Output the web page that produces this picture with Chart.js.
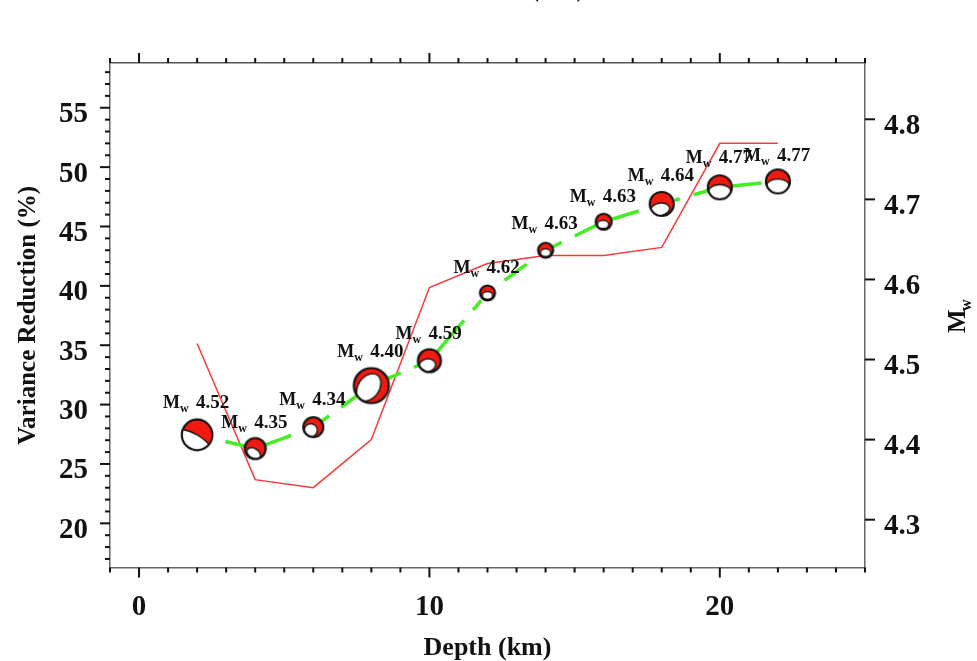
<!DOCTYPE html>
<html>
<head>
<meta charset="utf-8">
<title>Variance reduction vs depth</title>
<script src="https://cdn.jsdelivr.net/npm/chart.js@4"></script>
<style>
  body { margin: 0; background: #fff; }
  canvas { display: block; }
</style>
</head>
<body>
<canvas id="depth-chart" width="977" height="661"></canvas>
<script>
const depths = [2, 4, 6, 8, 10, 12, 14, 16, 18, 20, 22];
const varianceReduction = [27.45, 26.3, 28.1, 31.6, 33.7, 39.4, 43.0, 45.4, 46.9, 48.3, 48.8];
const magnitudes = [4.52, 4.35, 4.34, 4.40, 4.59, 4.62, 4.63, 4.63, 4.64, 4.77, 4.77];
const magnitudeLabels = ['4.52', '4.35', '4.34', '4.40', '4.59', '4.62', '4.63', '4.63', '4.64', '4.77', '4.77'];

const xTicks = [0, 10, 20];
const leftTicks = [20, 25, 30, 35, 40, 45, 50, 55];
const rightTicks = [4.3, 4.4, 4.5, 4.6, 4.7, 4.8];

// look of the beachballs: radius, then white part as offset x/y, rx, ry, angle (in ball radii)
const ballSizes = [15.3, 10.5, 10, 17.5, 11.5, 7.5, 7.5, 8, 12, 12, 12];
const ballWhite = [
    [-1.5, 2.6, 3, 3, 30],
    [-0.15, 0.45, 0.7, 0.45, 30],
    [-0.25, 0.3, 0.65, 0.65, 0],
    [-0.15, 0.1, 0.85, 0.6, -55],
    [-0.18, 0.4, 0.72, 0.55, -10],
    [0, 0.32, 0.68, 0.5, 0],
    [0, 0.32, 0.68, 0.5, 0],
    [-0.08, 0.33, 0.7, 0.5, 0],
    [-0.14, 0.45, 0.8, 0.52, -10],
    [0, 0.37, 0.95, 0.6, 0],
    [0, 0.42, 0.98, 0.62, 0]
];
// how far each Mw label sits above its ball
const labelLift = [27, 21, 22, 29, 22, 20, 21, 20, 23, 24, 20];

// gaps in the green line, hand measured along the path
const greenDash = [0, 29, 69, 13, 30, 14.7, 69.3, 14.2, 11, 12, 47, 14, 12.5, 30.8, 27.4, 14.9, 26.7, 14.4, 68.9, 37.6, 5.2, 14.5, 69.2, 200];

const serif = '"Liberation Serif", "Times New Roman", serif';

function makeBall(r, w) {
    const c = document.createElement('canvas');
    const half = Math.ceil(r) + 2;
    c.width = half * 2;
    c.height = half * 2;
    const g = c.getContext('2d');
    g.translate(half, half);
    g.save();
    g.beginPath();
    g.arc(0, 0, r, 0, Math.PI * 2);
    g.clip();
    g.fillStyle = '#f01a10';
    g.fillRect(-half, -half, half * 2, half * 2);
    g.beginPath();
    g.ellipse(w[0] * r, w[1] * r, w[2] * r, w[3] * r, w[4] * Math.PI / 180, 0, Math.PI * 2);
    g.fillStyle = '#fff';
    g.fill();
    g.lineWidth = 1.3;
    g.strokeStyle = '#111';
    g.stroke();
    g.restore();
    g.beginPath();
    g.arc(0, 0, r, 0, Math.PI * 2);
    g.lineWidth = 2.2;
    g.strokeStyle = '#111';
    g.stroke();
    return c;
}
const balls = ballSizes.map((r, i) => makeBall(r, ballWhite[i]));

function range(from, to, step) {
    const out = [];
    for (let v = from; v <= to; v += step) out.push(v);
    return out;
}

function drawTick(ctx, x, y, dx, dy) {
    ctx.beginPath();
    ctx.moveTo(x, y);
    ctx.lineTo(x + dx, y + dy);
    ctx.stroke();
}

// Chart.js has one tick length per axis so the long/short ticks are done here
const tickPlugin = {
    id: 'ticks2',
    afterDraw(chart) {
        const ctx = chart.ctx;
        const s = chart.scales;
        const area = chart.chartArea;
        ctx.save();
        ctx.strokeStyle = '#111';
        ctx.lineWidth = 2;
        range(-1, 25, 1).forEach(v => {
            const len = xTicks.includes(v) ? 10 : 5;
            const x = s.x.getPixelForValue(v);
            drawTick(ctx, x, area.bottom, 0, len);
            drawTick(ctx, x, area.top, 0, -len);
        });
        range(17, 58, 1).forEach(v => {
            drawTick(ctx, area.left, s.y.getPixelForValue(v), leftTicks.includes(v) ? -10 : -5, 0);
        });
        rightTicks.forEach(v => {
            drawTick(ctx, area.right, s.y2.getPixelForValue(v), 10, 0);
        });
        ctx.restore();
    }
};

const textPlugin = {
    id: 'mwText',
    afterDraw(chart) {
        const ctx = chart.ctx;
        const s = chart.scales;
        ctx.save();
        ctx.fillStyle = '#111';
        ctx.textBaseline = 'alphabetic';
        ctx.textAlign = 'left';
        depths.forEach((d, i) => {
            const x = s.x.getPixelForValue(d) - 34;
            const y = s.y.getPixelForValue(varianceReduction[i]) - labelLift[i];
            ctx.font = 'bold 18px ' + serif;
            ctx.fillText('M', x, y);
            ctx.font = 'bold 12px ' + serif;
            ctx.fillText('w', x + 17, y + 4);
            ctx.font = 'bold 19px ' + serif;
            ctx.fillText(magnitudeLabels[i], x + 33, y);
        });
        // right axis title
        ctx.save();
        ctx.translate(965, 333);
        ctx.rotate(-Math.PI / 2);
        ctx.font = 'bold 25px ' + serif;
        ctx.fillText('M', 0, 0);
        ctx.font = 'bold 16px ' + serif;
        ctx.fillText('w', 22, 6);
        ctx.restore();
        // the title is cut by the top of the page, only the brackets show
        ctx.font = 'bold 27px ' + serif;
        ctx.fillText('(km)', 530, -4);
        ctx.restore();
    }
};

function fixSide(prop, size) {
    return scale => { scale[prop] = size; };
}

const ctx = document.getElementById('depth-chart').getContext('2d');
const depthChart = new Chart(ctx, {
    type: 'line',
    plugins: [tickPlugin, textPlugin],
    data: {
        datasets: [
            {
                label: 'Mw',
                yAxisID: 'y2',
                data: depths.map((d, i) => ({ x: d, y: magnitudes[i] })),
                borderColor: '#f93a3a',
                borderWidth: 1.5,
                pointRadius: 0,
                tension: 0,
                order: 3
            },
            {
                label: 'Variance Reduction',
                yAxisID: 'y',
                data: depths.map((d, i) => ({ x: d, y: varianceReduction[i] })),
                borderColor: '#44ee22',
                borderWidth: 3.5,
                borderDash: greenDash,
                pointRadius: 0,
                tension: 0,
                order: 2
            },
            {
                label: 'Mechanisms',
                yAxisID: 'y',
                data: depths.map((d, i) => ({ x: d, y: varianceReduction[i] })),
                showLine: false,
                pointStyle: c => balls[c.dataIndex],
                pointRadius: 10,
                order: 1
            }
        ]
    },
    options: {
        responsive: false,
        animation: false,
        plugins: {
            legend: { display: false },
            tooltip: { enabled: false }
        },
        scales: {
            x: {
                type: 'linear',
                position: 'bottom',
                min: -1,
                max: 25,
                afterFit: fixSide('height', 93.5),
                afterBuildTicks: scale => { scale.ticks = xTicks.map(v => ({ value: v })); },
                grid: { display: false, drawTicks: false },
                border: { color: '#666', width: 1.5 },
                ticks: {
                    autoSkip: false,
                    maxRotation: 0,
                    padding: 23,
                    color: '#111',
                    font: { family: serif, weight: 'bold', size: 29 }
                },
                title: {
                    display: true,
                    text: 'Depth (km)',
                    color: '#111',
                    padding: { top: 0, bottom: -3 },
                    font: { family: serif, weight: 'bold', size: 26 }
                }
            },
            x2: {
                type: 'linear',
                position: 'top',
                min: -1,
                max: 25,
                afterFit: fixSide('height', 63),
                grid: { display: false, drawTicks: false },
                border: { color: '#555', width: 1.5 },
                ticks: { display: false }
            },
            y: {
                type: 'linear',
                position: 'left',
                min: 16.28,
                max: 58.77,
                afterFit: fixSide('width', 110),
                afterBuildTicks: scale => { scale.ticks = leftTicks.map(v => ({ value: v })); },
                grid: { display: false, drawTicks: false },
                border: { color: '#666', width: 1.5 },
                ticks: {
                    autoSkip: false,
                    padding: 22,
                    labelOffset: 7,
                    color: '#111',
                    font: { family: serif, weight: 'bold', size: 29 }
                },
                title: {
                    display: true,
                    text: 'Variance Reduction (%)',
                    color: '#111',
                    padding: { top: 14, bottom: 0 },
                    font: { family: serif, weight: 'bold', size: 25 }
                }
            },
            y2: {
                type: 'linear',
                position: 'right',
                min: 4.2403,
                max: 4.8703,
                afterFit: fixSide('width', 112),
                afterBuildTicks: scale => { scale.ticks = rightTicks.map(v => ({ value: v })); },
                grid: { display: false, drawTicks: false },
                border: { color: '#666', width: 1.5 },
                ticks: {
                    autoSkip: false,
                    padding: 19,
                    labelOffset: 7,
                    color: '#111',
                    font: { family: serif, weight: 'bold', size: 29 },
                    callback: v => v.toFixed(1)
                }
            }
        }
    }
});
</script>
</body>
</html>
